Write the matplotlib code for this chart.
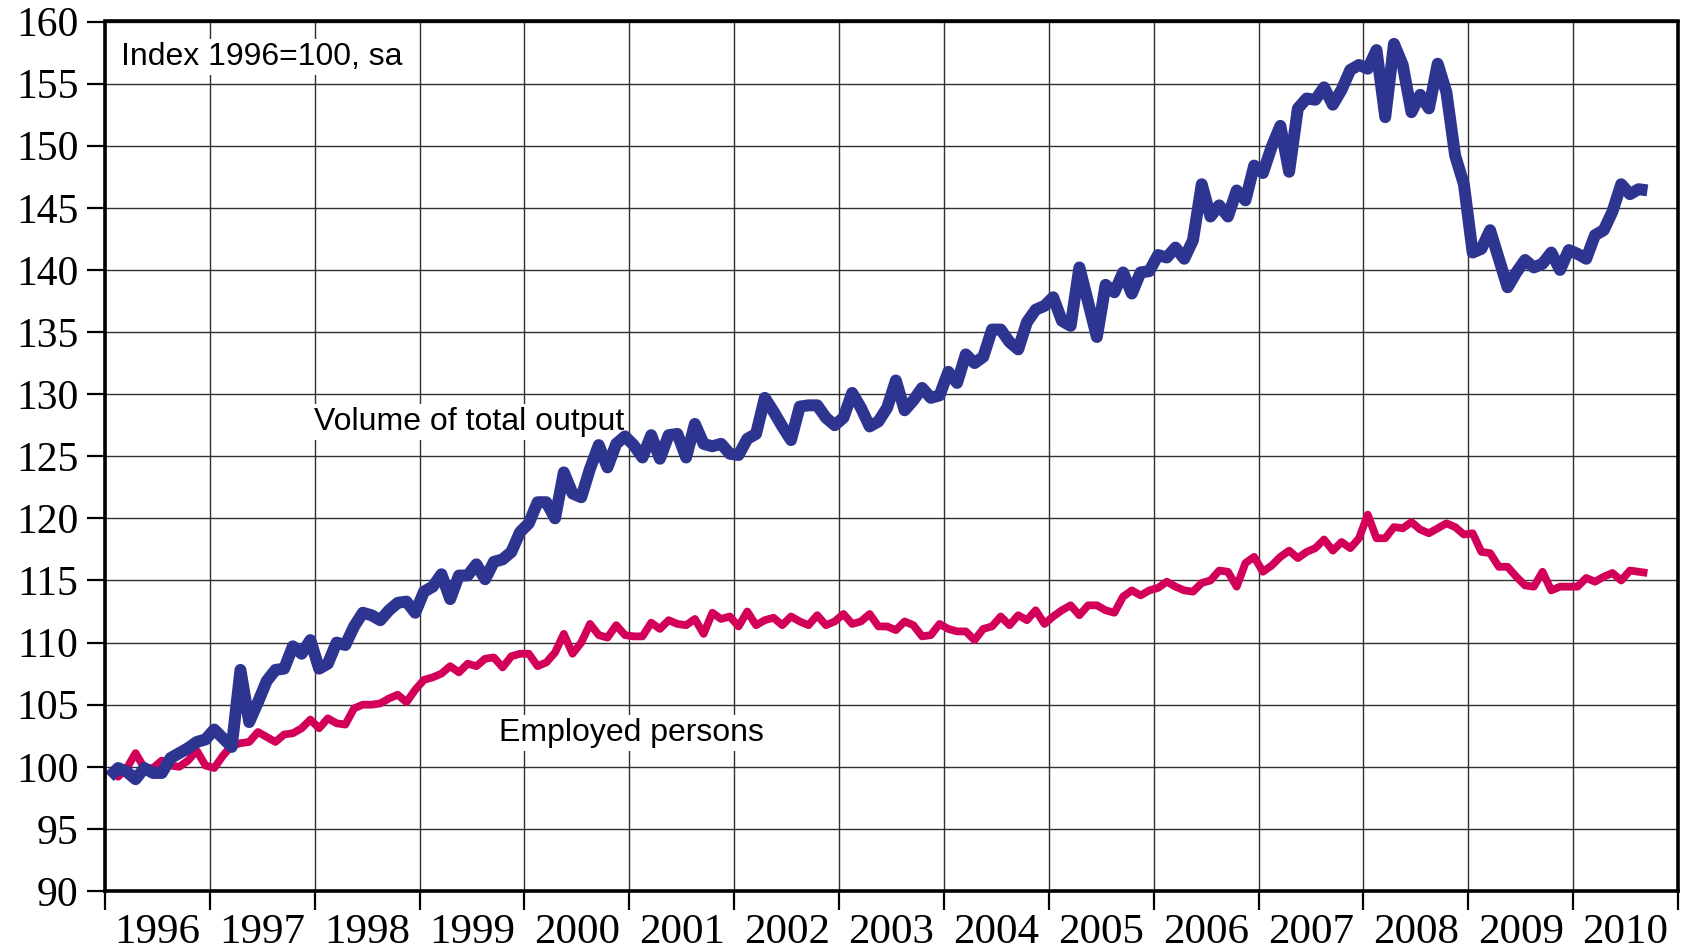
import numpy as np
import matplotlib.pyplot as plt
from matplotlib import font_manager

# Monthly index values, Jan 1996 - Sep 2010 (1996=100, seasonally adjusted)
output_volume = [
    99.2, 99.9, 99.6, 99.0, 99.9, 99.5, 99.5, 100.7, 101.1, 101.5, 102.0, 102.2,          # 1996
    103.0, 102.3, 101.6, 107.8, 103.6, 105.2, 106.9, 107.8, 107.9, 109.7, 109.1, 110.2,   # 1997
    107.9, 108.3, 110.0, 109.8, 111.3, 112.4, 112.2, 111.8, 112.6, 113.2, 113.3, 112.4,   # 1998
    114.1, 114.5, 115.5, 113.5, 115.4, 115.4, 116.3, 115.1, 116.5, 116.7, 117.3, 118.9,   # 1999
    119.6, 121.3, 121.3, 120.0, 123.7, 122.0, 121.7, 124.0, 125.9, 124.1, 126.0, 126.6,   # 2000
    125.9, 124.9, 126.7, 124.8, 126.7, 126.8, 124.9, 127.6, 126.0, 125.8, 126.0, 125.2,   # 2001
    125.1, 126.4, 126.8, 129.7, 128.6, 127.4, 126.3, 129.0, 129.1, 129.1, 128.1, 127.5,   # 2002
    128.1, 130.1, 128.9, 127.4, 127.8, 128.9, 131.1, 128.7, 129.5, 130.5, 129.7, 129.9,   # 2003
    131.8, 130.9, 133.2, 132.5, 133.0, 135.2, 135.2, 134.2, 133.6, 135.8, 136.8, 137.1,   # 2004
    137.8, 135.9, 135.5, 140.2, 137.4, 134.6, 138.8, 138.2, 139.8, 138.1, 139.8, 139.9,   # 2005
    141.2, 141.0, 141.8, 140.9, 142.4, 146.9, 144.3, 145.2, 144.3, 146.4, 145.6, 148.4,   # 2006
    147.8, 149.9, 151.6, 147.9, 153.0, 153.8, 153.7, 154.7, 153.3, 154.5, 156.1, 156.5,   # 2007
    156.2, 157.7, 152.3, 158.2, 156.5, 152.7, 154.1, 153.0, 156.6, 154.3, 149.2, 146.9,   # 2008
    141.4, 141.7, 143.2, 140.9, 138.6, 139.8, 140.8, 140.2, 140.5, 141.4, 140.0, 141.6,   # 2009
    141.3, 140.9, 142.8, 143.2, 144.7, 146.9, 146.1, 146.5, 146.4,                        # 2010
]

employed_persons = [
    99.7, 99.2, 99.9, 101.1, 99.9, 99.9, 100.5, 100.1, 100.0, 100.5, 101.3, 100.1,        # 1996
    99.9, 100.9, 101.7, 101.9, 102.0, 102.8, 102.4, 102.0, 102.6, 102.7, 103.1, 103.8,    # 1997
    103.1, 103.9, 103.5, 103.4, 104.7, 105.0, 105.0, 105.1, 105.5, 105.8, 105.2, 106.2,   # 1998
    107.0, 107.2, 107.5, 108.1, 107.6, 108.3, 108.1, 108.7, 108.8, 108.0, 108.9, 109.1,   # 1999
    109.1, 108.1, 108.4, 109.2, 110.7, 109.1, 110.0, 111.5, 110.6, 110.4, 111.4, 110.6,   # 2000
    110.5, 110.5, 111.6, 111.1, 111.8, 111.5, 111.4, 111.9, 110.7, 112.4, 111.9, 112.1,   # 2001
    111.3, 112.5, 111.4, 111.8, 112.0, 111.4, 112.1, 111.7, 111.4, 112.2, 111.4, 111.7,   # 2002
    112.3, 111.5, 111.7, 112.3, 111.3, 111.3, 111.0, 111.7, 111.4, 110.5, 110.6, 111.5,   # 2003
    111.1, 110.9, 110.9, 110.2, 111.1, 111.3, 112.1, 111.4, 112.2, 111.8, 112.6, 111.5,   # 2004
    112.1, 112.6, 113.0, 112.2, 113.0, 113.0, 112.6, 112.4, 113.7, 114.2, 113.8, 114.2,   # 2005
    114.4, 114.9, 114.5, 114.2, 114.1, 114.8, 115.0, 115.8, 115.7, 114.5, 116.4, 116.9,   # 2006
    115.7, 116.2, 116.9, 117.4, 116.8, 117.3, 117.6, 118.3, 117.4, 118.1, 117.6, 118.4,   # 2007
    120.3, 118.4, 118.4, 119.3, 119.2, 119.7, 119.1, 118.8, 119.2, 119.6, 119.3, 118.7,   # 2008
    118.8, 117.3, 117.2, 116.1, 116.1, 115.3, 114.6, 114.5, 115.7, 114.2, 114.5, 114.5,   # 2009
    114.5, 115.2, 114.9, 115.3, 115.6, 115.0, 115.8, 115.7, 115.6,                        # 2010
]

years = list(range(1996, 2011))
year_labels = [str(y) for y in years]
y_ticks = list(range(90, 161, 5))

# months plotted at the middle of each month
months = np.arange(len(output_volume))
x = 1996 + (months + 0.5) / 12

# narrow sans for the in-chart labels if available
try:
    font_manager.findfont('Liberation Sans Narrow', fallback_to_default=False)
    label_font, label_size = 'Liberation Sans Narrow', 28
except ValueError:
    label_font, label_size = 'Liberation Sans', 23

fig = plt.figure(figsize=(16.85, 9.5), dpi=100)
ax = fig.add_axes([105 / 1685, 1 - 891 / 950, 1573 / 1685, (891 - 21.5) / 950])

ax.plot(x, employed_persons, color='#D20059', lw=5.6, solid_joinstyle='round',
        solid_capstyle='butt', zorder=3)
ax.plot(x, output_volume, color='#2E3590', lw=8.6, solid_joinstyle='round',
        solid_capstyle='butt', zorder=4)

ax.set_xlim(1996, 2011)
ax.set_ylim(90, 160)

# year boundaries as major ticks, labels centred on each year
ax.set_xticks(list(range(1996, 2012)))
ax.set_xticklabels([])
ax.set_xticks([y + 0.5 for y in years], minor=True)
ax.set_xticklabels(year_labels, minor=True, fontsize=31, family='Liberation Serif')
ax.tick_params(axis='x', which='major', direction='out', length=14, width=1.6)
ax.tick_params(axis='x', which='minor', length=0, pad=16)

ax.set_yticks(y_ticks)
ax.set_yticklabels([str(v) for v in y_ticks], fontsize=30, family='Liberation Serif')
ax.tick_params(axis='y', direction='out', length=13, width=1.6, pad=6)

ax.grid(True, which='major', color='#303030', lw=1.0, zorder=1)
ax.set_axisbelow(True)

for side in ['left', 'bottom', 'top', 'right']:
    ax.spines[side].set_linewidth(2.6)
    ax.spines[side].set_zorder(5)

box = dict(facecolor='white', edgecolor='none', pad=2)
ax.text(1996.15, 156.5, 'Index 1996=100, sa', family=label_font, fontsize=label_size,
        va='baseline', ha='left', bbox=box, zorder=2)
ax.text(1997.99, 127.1, 'Volume of total output', family=label_font, fontsize=label_size,
        va='baseline', ha='left', bbox=box, zorder=2)
ax.text(1999.76, 102.1, 'Employed persons', family=label_font, fontsize=label_size,
        va='baseline', ha='left', bbox=box, zorder=2)

plt.savefig('out.png', dpi=100, facecolor='white')
